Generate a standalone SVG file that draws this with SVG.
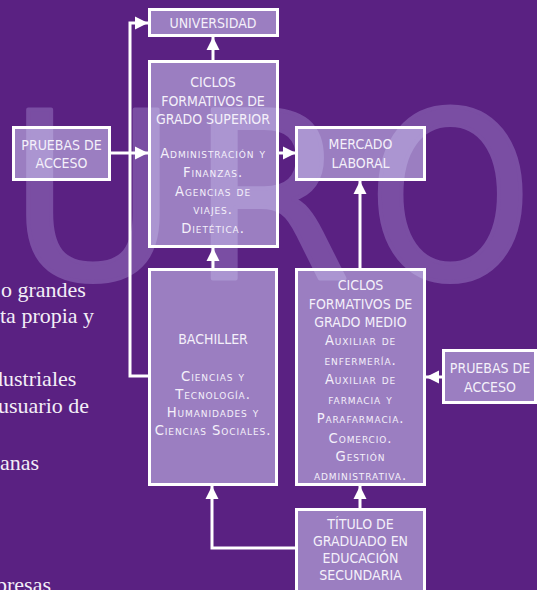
<svg xmlns="http://www.w3.org/2000/svg" width="537" height="590" viewBox="0 0 537 590">
  <defs>
    <style>
      .wm { font-family: "DejaVu Sans", sans-serif; font-size: 232px; fill: #7a4ea3; stroke: #7a4ea3; stroke-width: 4; stroke-linejoin: round; }
      .wmc { font-family: "DejaVu Sans Condensed", "DejaVu Sans", sans-serif; }
      .bg { font-family: "Liberation Serif", serif; font-size: 22px; fill: #f3eef7; }
      .box { fill: #dcdcff; fill-opacity: 0.5; stroke: #ffffff; stroke-width: 3; }
      .h { font-family: "DejaVu Sans Condensed", "DejaVu Sans", sans-serif; font-size: 14px; fill: #f4f0fa; text-anchor: middle; }
      .b { font-family: "DejaVu Sans", sans-serif; font-size: 13.2px; font-variant: small-caps; letter-spacing: 0.9px; fill: #f4f0fa; text-anchor: middle; }
      .ln { fill: none; stroke: #ffffff; stroke-width: 3; }
    </style>
    <marker id="ah" viewBox="0 0 10 10" refX="10" refY="5" markerWidth="4.4" markerHeight="4.4" markerUnits="strokeWidth" orient="auto">
      <path d="M0,0 L10,5 L0,10 z" fill="#ffffff"/>
    </marker>
  </defs>

  <rect width="537" height="590" fill="#5a2182"/>

  <!-- watermark -->
  <g id="watermark">
    <text class="wm" x="8" y="279">U</text>
    <text class="wm" x="190" y="279">R</text>
    <text class="wm wmc" x="368" y="279">O</text>
  </g>

  <!-- background page text -->
  <g id="page-text">
    <text class="bg" x="1" y="297">o grandes</text>
    <text class="bg" x="0" y="323">ta propia y</text>
    <text class="bg" x="-8" y="386">dustriales</text>
    <text class="bg" x="-2" y="413">usuario de</text>
    <text class="bg" x="0" y="470">anas</text>
    <text class="bg" x="-4" y="592">presas</text>
  </g>

  <!-- connectors -->
  <g id="connectors">
    <path class="ln" d="M148,376 H130 V23 H148" marker-end="url(#ah)"/>
    <path class="ln" d="M110,153 H148" marker-end="url(#ah)"/>
    <path class="ln" d="M278,153 H296" marker-end="url(#ah)"/>
    <path class="ln" d="M213,60 V37" marker-end="url(#ah)"/>
    <path class="ln" d="M213,268 V248" marker-end="url(#ah)"/>
    <path class="ln" d="M360,268 V181" marker-end="url(#ah)"/>
    <path class="ln" d="M442,377 H426" marker-end="url(#ah)"/>
    <path class="ln" d="M360,508 V486" marker-end="url(#ah)"/>
    <path class="ln" d="M296,548 H212 V486" marker-end="url(#ah)"/>
  </g>

  <g id="universidad">
    <rect class="box" x="149.5" y="9.5" width="128" height="26"/>
    <text class="h" x="213" y="28">UNIVERSIDAD</text>
  </g>

  <g id="ciclos-grado-superior">
    <rect class="box" x="149.5" y="61.5" width="128" height="185"/>
    <text class="h" x="213" y="87">CICLOS</text>
    <text class="h" x="213" y="105.5">FORMATIVOS DE</text>
    <text class="h" x="213" y="124">GRADO SUPERIOR</text>
    <text class="b" x="213" y="158">Administración y</text>
    <text class="b" x="213" y="177">Finanzas.</text>
    <text class="b" x="213" y="196">Agencias de</text>
    <text class="b" x="213" y="214">viajes.</text>
    <text class="b" x="213" y="233">Dietética.</text>
  </g>

  <g id="pruebas-acceso-izq">
    <rect class="box" x="13.5" y="127.5" width="96" height="52"/>
    <text class="h" x="61.5" y="150">PRUEBAS DE</text>
    <text class="h" x="61.5" y="168">ACCESO</text>
  </g>

  <g id="mercado-laboral">
    <rect class="box" x="296.5" y="127.5" width="128" height="52"/>
    <text class="h" x="360.5" y="149">MERCADO</text>
    <text class="h" x="360.5" y="168">LABORAL</text>
  </g>

  <g id="bachiller">
    <rect class="box" x="149.5" y="269.5" width="127" height="215"/>
    <text class="h" x="213" y="344">BACHILLER</text>
    <text class="b" x="213" y="381">Ciencias y</text>
    <text class="b" x="213" y="399">Tecnología.</text>
    <text class="b" x="213" y="417">Humanidades y</text>
    <text class="b" x="213" y="435">Ciencias Sociales.</text>
  </g>

  <g id="ciclos-grado-medio">
    <rect class="box" x="296.5" y="269.5" width="128" height="215"/>
    <text class="h" x="360.5" y="290">CICLOS</text>
    <text class="h" x="360.5" y="309">FORMATIVOS DE</text>
    <text class="h" x="360.5" y="327">GRADO MEDIO</text>
    <text class="b" x="360.5" y="345">Auxiliar de</text>
    <text class="b" x="360.5" y="365">enfermería.</text>
    <text class="b" x="360.5" y="384">Auxiliar de</text>
    <text class="b" x="360.5" y="404">farmacia y</text>
    <text class="b" x="360.5" y="423">Parafarmacia.</text>
    <text class="b" x="360.5" y="443">Comercio.</text>
    <text class="b" x="360.5" y="461">Gestión</text>
    <text class="b" x="360.5" y="480">administrativa.</text>
  </g>

  <g id="pruebas-acceso-der">
    <rect class="box" x="443.5" y="350.5" width="92" height="52"/>
    <text class="h" x="490" y="373">PRUEBAS DE</text>
    <text class="h" x="490" y="392">ACCESO</text>
  </g>

  <g id="titulo-graduado">
    <rect class="box" x="296.5" y="509.5" width="128" height="100"/>
    <text class="h" x="360.5" y="529">TÍTULO DE</text>
    <text class="h" x="360.5" y="546">GRADUADO EN</text>
    <text class="h" x="360.5" y="563">EDUCACIÓN</text>
    <text class="h" x="360.5" y="580">SECUNDARIA</text>
  </g>
</svg>
